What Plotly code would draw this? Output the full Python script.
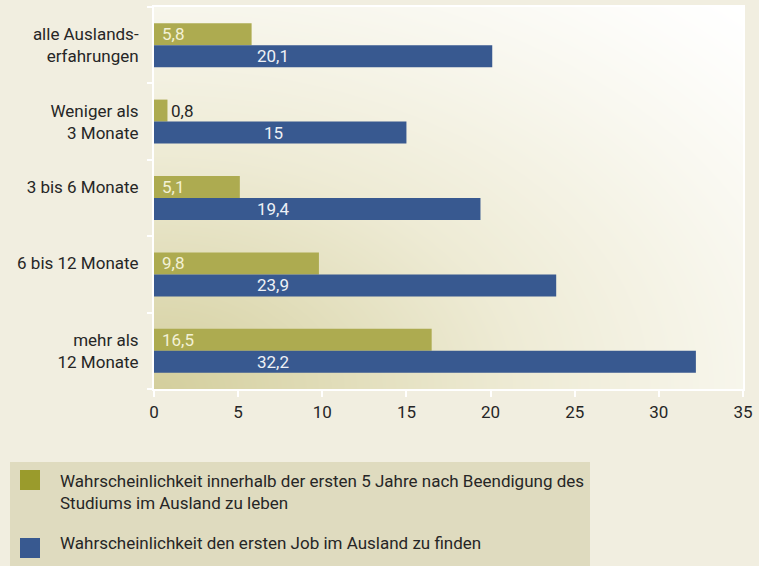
import numpy as np
import plotly.graph_objects as go

categories = ["alle Auslands-<br>erfahrungen", "Weniger als<br>3 Monate", "3 bis 6 Monate",
              "6 bis 12 Monate", "mehr als<br>12 Monate"]
leben = [5.8, 0.8, 5.1, 9.8, 16.5]
job = [20.1, 15, 19.4, 23.9, 32.2]
legend_names = ["Wahrscheinlichkeit innerhalb der ersten 5 Jahre nach Beendigung des<br>Studiums im Ausland zu leben",
                "Wahrscheinlichkeit den ersten Job im Ausland zu finden"]
x_ticks = [0, 5, 10, 15, 20, 25, 30, 35]

def fmt(v):
    return (f"{v:g}").replace(".", ",")

FONT = "Roboto, Liberation Sans, sans-serif"
FS = 17
OLIVE = "#adab50"
OLIVE_LEG = "#9a9b2c"
BLUE = "#385990"
TXT = "#262626"

W, H = 759, 566
L, R, T, B = 154, 16, 7, 177
PW, PH = W - L - R, H - T - B
XMAX = 35

def px_x(p):
    return (p - L) / PW

def px_y(p):
    return (H - B - p) / PH

# single-line labels sit in the upper part of their band, as in the reference
tick_text = [c if "<br>" in c else c + "<br> " for c in categories]

fig = go.Figure()

# background gradient of the plot area
gx = np.linspace(0, 1, 80)
gy = np.linspace(0, 1, 60)
X, Y = np.meshgrid(gx, gy)
d = np.sqrt(X ** 2 + Y ** 2) / np.sqrt(2)
Z = np.clip(1 - d, 0, 1) ** 1.2
fig.add_trace(go.Heatmap(x=gx, y=gy, z=Z, zmin=0, zmax=1, zsmooth="best",
                         colorscale=[[0, "#ffffff"], [0.5, "#eeebd5"], [1, "#d3ce9c"]],
                         showscale=False, hoverinfo="skip", xaxis="x", yaxis="y"))

fig.add_trace(go.Bar(y=categories, x=leben, orientation="h", name="leben",
                     marker=dict(color=OLIVE, line=dict(width=0)),
                     xaxis="x2", yaxis="y2", showlegend=False))
fig.add_trace(go.Bar(y=categories, x=job, orientation="h", name="job",
                     marker=dict(color=BLUE, line=dict(width=0)),
                     xaxis="x2", yaxis="y2", showlegend=False))

annotations = []
for c, v in zip(categories, leben):
    inside = v * PW / XMAX > 40
    annotations.append(dict(x=0 if inside else v, y=c, xref="x2", yref="y2", text=fmt(v),
                            showarrow=False, xanchor="left", yanchor="middle",
                            xshift=6 if inside else 2, yshift=11,
                            font=dict(family=FONT, size=FS, color="#f3f1d6" if inside else TXT)))
for c, v in zip(categories, job):
    annotations.append(dict(x=0, y=c, xref="x2", yref="y2", text=fmt(v), showarrow=False,
                            xanchor="center", yanchor="middle", xshift=119, yshift=-11,
                            font=dict(family=FONT, size=FS, color="#eef1f6")))

shapes = [dict(type="rect", xref="paper", yref="paper", x0=px_x(10), x1=px_x(590),
               y0=px_y(462), y1=px_y(570), fillcolor="#dfdbbf", line=dict(width=0), layer="below")]
sw = [(470, OLIVE_LEG), (538, BLUE)]
for (top, col) in sw:
    shapes.append(dict(type="rect", xref="paper", yref="paper", x0=px_x(20), x1=px_x(40),
                       y0=px_y(top), y1=px_y(top + 20), fillcolor=col, line=dict(width=0)))
annotations.append(dict(xref="paper", yref="paper", x=px_x(58), y=px_y(469), text=legend_names[0],
                        showarrow=False, xanchor="left", yanchor="top", align="left",
                        font=dict(family=FONT, size=FS, color=TXT)))
annotations.append(dict(xref="paper", yref="paper", x=px_x(58), y=px_y(531), text=legend_names[1],
                        showarrow=False, xanchor="left", yanchor="top", align="left",
                        font=dict(family=FONT, size=FS, color=TXT)))

fig.update_layout(
    width=W, height=H,
    margin=dict(l=L, r=R, t=T, b=B, pad=0, autoexpand=False),
    paper_bgcolor="#f1eee0", plot_bgcolor="#ffffff",
    barmode="group", bargap=0.424, bargroupgap=0,
    font=dict(family=FONT, size=FS, color=TXT),
    xaxis=dict(range=[0, 1], visible=False, fixedrange=True),
    yaxis=dict(range=[0, 1], visible=False, fixedrange=True),
    xaxis2=dict(overlaying="x", anchor="y2", side="bottom", range=[0, XMAX], tickvals=x_ticks,
                ticktext=[str(t) for t in x_ticks], ticks="outside", ticklen=6, tickwidth=2,
                tickcolor="#ffffff", showline=True, linecolor="#ffffff", linewidth=2, mirror=True,
                showgrid=False, zeroline=False, ticklabelstandoff=1, automargin=False,
                tickfont=dict(family=FONT, size=FS, color=TXT)),
    yaxis2=dict(overlaying="y", anchor="x2", side="left", type="category",
                categoryorder="array", categoryarray=categories, autorange="reversed",
                tickmode="array", tickvals=categories, ticktext=tick_text,
                ticks="outside", tickson="boundaries", ticklen=5, tickwidth=2, tickcolor="#ffffff",
                showline=True, linecolor="#ffffff", linewidth=2, mirror=True, showgrid=False,
                zeroline=False, ticklabelstandoff=10, automargin=False,
                tickfont=dict(family=FONT, size=FS, color=TXT)),
    shapes=shapes, annotations=annotations, showlegend=False,
)

fig.write_html("out.html", config={"displayModeBar": False},
               post_script="document.body.style.margin='0';document.body.style.padding='0';")
